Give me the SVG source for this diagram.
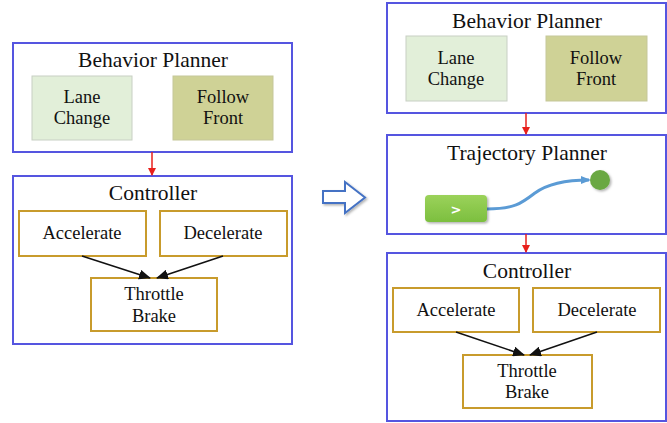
<svg xmlns="http://www.w3.org/2000/svg" width="667" height="423" viewBox="0 0 667 423">
<style>
.panel{fill:#fff;stroke:#5555e0;stroke-width:2}
.lane{fill:#e2efd9;stroke:#c8cfc4;stroke-width:1}
.follow{fill:#cfd296;stroke:#c5c79a;stroke-width:1}
.act{fill:#fff;stroke:#c89b2c;stroke-width:2}
.title{font-family:"Liberation Serif","Times New Roman",serif;font-size:21.5px;fill:#111;text-anchor:middle}
.lbl{font-family:"Liberation Serif","Times New Roman",serif;font-size:18.5px;fill:#111;text-anchor:middle}
.red{stroke:#e8201c;stroke-width:1.5;fill:none;marker-end:url(#redhead)}
.blk{stroke:#111;stroke-width:1.5;fill:none;marker-end:url(#blkhead)}
</style>
<defs>
<marker id="redhead" markerWidth="8" markerHeight="8" refX="7" refY="4" orient="auto" markerUnits="userSpaceOnUse">
<path d="M0,0 L8,4 L0,8 z" fill="#e8201c"/>
</marker>
<marker id="blkhead" markerWidth="12" markerHeight="10" refX="11" refY="5" orient="auto" markerUnits="userSpaceOnUse">
<path d="M0,0 L12,5 L0,10 z" fill="#111"/>
</marker>
<marker id="bluehead" markerWidth="10" markerHeight="8" refX="8" refY="4" orient="auto" markerUnits="userSpaceOnUse">
<path d="M0,0 L10,4 L0,8 z" fill="#5b9bd5"/>
</marker>
<linearGradient id="gbtn" x1="0" y1="0" x2="0" y2="1">
<stop offset="0" stop-color="#9bd25a"/>
<stop offset="1" stop-color="#7cbf3f"/>
</linearGradient>
<filter id="sh" x="-20%" y="-20%" width="150%" height="150%">
<feDropShadow dx="1.5" dy="1.5" stdDeviation="1.2" flood-color="#000" flood-opacity="0.3"/>
</filter>
</defs>

<!-- Left: Behavior Planner -->
<g id="left-behavior-planner">
<rect class="panel" x="13" y="43" width="279" height="109"/>
<text class="title" x="153" y="67">Behavior Planner</text>
</g>
<g id="left-lane-change">
<rect class="lane" x="32" y="76" width="100" height="64"/>
<text class="lbl" x="82" y="103">Lane</text>
<text class="lbl" x="82" y="124">Change</text>
</g>
<g id="left-follow-front">
<rect class="follow" x="173" y="76" width="100" height="64"/>
<text class="lbl" x="223" y="103">Follow</text>
<text class="lbl" x="223" y="124">Front</text>
</g>

<!-- Left: Controller -->
<g id="left-controller">
<rect class="panel" x="13" y="176" width="279" height="168"/>
<text class="title" x="153" y="200">Controller</text>
</g>
<g id="left-accelerate">
<rect class="act" x="19" y="211" width="127" height="45"/>
<text class="lbl" x="82" y="239">Accelerate</text>
</g>
<g id="left-decelerate">
<rect class="act" x="160" y="211" width="127" height="45"/>
<text class="lbl" x="223" y="239">Decelerate</text>
</g>
<g id="left-throttle-brake">
<rect class="act" x="91" y="278" width="126" height="53"/>
<text class="lbl" x="154" y="300">Throttle</text>
<text class="lbl" x="154" y="322">Brake</text>
</g>

<!-- Big transition arrow -->
<g id="transition-arrow">
<path d="M323,191 L345,191 L345,182 L365,197.5 L345,213 L345,203 L323,203 z" fill="#fff" stroke="#4472c4" stroke-width="2" stroke-linejoin="miter" filter="url(#sh)"/>
</g>

<!-- Right: Behavior Planner -->
<g id="right-behavior-planner">
<rect class="panel" x="387" y="3" width="279" height="110"/>
<text class="title" x="527" y="28">Behavior Planner</text>
</g>
<g id="right-lane-change">
<rect class="lane" x="406" y="36" width="101" height="65"/>
<text class="lbl" x="456" y="64">Lane</text>
<text class="lbl" x="456" y="85">Change</text>
</g>
<g id="right-follow-front">
<rect class="follow" x="546" y="36" width="101" height="65"/>
<text class="lbl" x="596" y="64">Follow</text>
<text class="lbl" x="596" y="85">Front</text>
</g>

<!-- Right: Trajectory Planner -->
<g id="right-trajectory-planner">
<rect class="panel" x="387" y="135" width="279" height="99"/>
<text class="title" x="527" y="160">Trajectory Planner</text>
<path d="M487,209 C515,209 522,203 535,193 C550,182 570,180 589,180" fill="none" stroke="#5b9bd5" stroke-width="3" marker-end="url(#bluehead)"/>
<rect x="425" y="195" width="62" height="27" rx="4" fill="url(#gbtn)" filter="url(#sh)"/>
<text x="456" y="214" font-family="'DejaVu Sans', sans-serif" font-size="13" font-weight="bold" fill="#fff" text-anchor="middle">&gt;</text>
<circle cx="600" cy="180" r="10" fill="#6aa842" filter="url(#sh)"/>
</g>

<!-- Right: Controller -->
<g id="right-controller">
<rect class="panel" x="387" y="253" width="279" height="168"/>
<text class="title" x="527" y="278">Controller</text>
</g>
<g id="right-accelerate">
<rect class="act" x="393" y="288" width="126" height="44"/>
<text class="lbl" x="456" y="316">Accelerate</text>
</g>
<g id="right-decelerate">
<rect class="act" x="533" y="288" width="127" height="44"/>
<text class="lbl" x="597" y="316">Decelerate</text>
</g>
<g id="right-throttle-brake">
<rect class="act" x="463" y="355" width="129" height="53"/>
<text class="lbl" x="527" y="377">Throttle</text>
<text class="lbl" x="527" y="398">Brake</text>
</g>

<!-- Connectors -->
<g id="connectors">
<line class="red" x1="152" y1="152" x2="152" y2="175"/>
<line class="blk" x1="82" y1="256" x2="150" y2="278"/>
<line class="blk" x1="223" y1="256" x2="157" y2="278"/>
<line class="red" x1="526" y1="113" x2="526" y2="134"/>
<line class="red" x1="526" y1="234" x2="526" y2="252"/>
<line class="blk" x1="456" y1="332" x2="524" y2="355"/>
<line class="blk" x1="597" y1="332" x2="530" y2="355"/>
</g>
</svg>
